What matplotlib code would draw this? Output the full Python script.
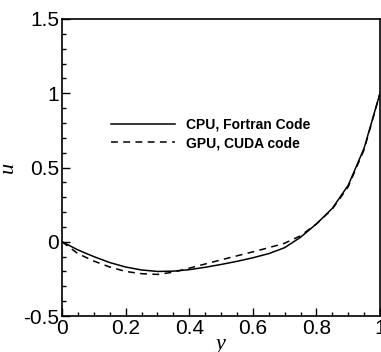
import matplotlib
matplotlib.use('Agg')
import matplotlib.pyplot as plt
from matplotlib.ticker import MultipleLocator

# values
y_pos = [0.0, 0.05, 0.1, 0.15, 0.2, 0.25, 0.3, 0.35, 0.4, 0.45, 0.5,
         0.55, 0.6, 0.65, 0.7, 0.75, 0.8, 0.85, 0.9, 0.95, 1.0]
u_cpu = [0.0, -0.055, -0.10, -0.14, -0.17, -0.19, -0.20, -0.198, -0.188, -0.172, -0.153,
         -0.132, -0.108, -0.08, -0.04, 0.03, 0.12, 0.225, 0.38, 0.63, 1.0]
u_gpu = [0.0, -0.08, -0.13, -0.17, -0.20, -0.215, -0.22, -0.205, -0.178, -0.15, -0.122,
         -0.095, -0.068, -0.04, -0.01, 0.04, 0.12, 0.22, 0.37, 0.62, 1.0]
labels = ['CPU, Fortran Code', 'GPU, CUDA code']

fig = plt.figure(figsize=(3.81, 3.52), dpi=100)
ax = fig.add_axes([62 / 381, 36 / 352, 318 / 381, 297 / 352])

ax.plot(y_pos, u_cpu, color='black', lw=1.1, label=labels[0])
ax.plot(y_pos, u_gpu, color='black', lw=1.1, dashes=(4.5, 3.5), label=labels[1])

ax.set_xlim(0, 1)
ax.set_ylim(-0.5, 1.5)
ax.xaxis.set_major_locator(MultipleLocator(0.2))
ax.xaxis.set_minor_locator(MultipleLocator(0.05))
ax.yaxis.set_major_locator(MultipleLocator(0.5))
ax.yaxis.set_minor_locator(MultipleLocator(0.1))
ax.set_xticks([0, 0.2, 0.4, 0.6, 0.8, 1.0])
ax.set_xticklabels(['0', '0.2', '0.4', '0.6', '0.8', '1'])
ax.set_yticks([-0.5, 0, 0.5, 1.0, 1.5])
ax.set_yticklabels(['-0.5', '0', '0.5', '1', '1.5'])

ax.tick_params(which='both', direction='in', top=False, right=False, width=1)
ax.tick_params(which='major', length=6, pad=2)
ax.tick_params(which='minor', length=3)
for lab in ax.get_xticklabels() + ax.get_yticklabels():
    lab.set_fontfamily('Liberation Sans')
    lab.set_fontsize(15)
for sp in ax.spines.values():
    sp.set_linewidth(1.2)

ax.set_xlabel('y', family='Liberation Serif', style='italic', fontsize=16, labelpad=-2)
ax.set_ylabel('u', family='Liberation Serif', style='italic', fontsize=16, labelpad=4)

leg = ax.legend(loc='center left', bbox_to_anchor=(111 / 381, 1 - 134 / 352),
                bbox_transform=fig.transFigure, frameon=False, borderpad=0,
                borderaxespad=0, handlelength=4.6, handletextpad=0.8,
                labelspacing=0.3, prop={'family': 'Liberation Sans', 'weight': 'bold', 'size': 10})

fig.savefig('out.png', dpi=100)
